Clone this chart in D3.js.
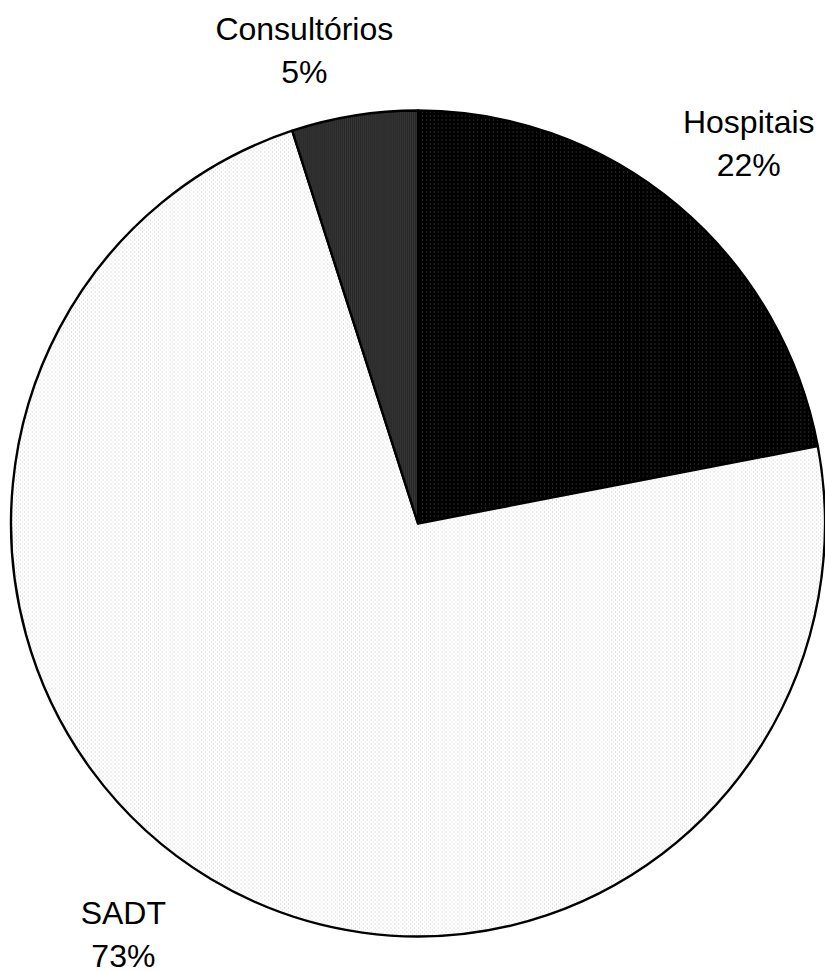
<!DOCTYPE html>
<html>
<head>
<meta charset="utf-8">
<script src="https://cdn.jsdelivr.net/npm/d3@7"></script>
<style>
  body { margin: 0; background: #fff; }
  text { font-family: "Liberation Sans", Arial, sans-serif; font-size: 32px; fill: #000; }
</style>
</head>
<body>
<div id="chart"></div>
<script>
var categories = ["Hospitais", "SADT", "Consultórios"];
var values = [22, 73, 5];
var percentLabels = ["22%", "73%", "5%"];

var width = 825, height = 971;
var cx = 418, cy = 523.5, ry = 413, rx = 407;

var svg = d3.select("#chart").append("svg")
    .attr("width", width)
    .attr("height", height);

// dotted fills, like the old office patterns
var defs = svg.append("defs");
var patterns = [
    {id: "p0", size: 4, bg: "#000", dots: [[0, 0, "#4a4a4a"]]},
    {id: "p1", size: 4, bg: "#fff", dots: [[0, 0, "#c4c4c4"], [2, 2, "#d8d8d8"]]},
    {id: "p2", size: 2, bg: "#262626", dots: [[0, 0, "#484848"]]}
];
patterns.forEach(function(p){
    var pat = defs.append("pattern")
        .attr("id", p.id)
        .attr("patternUnits", "userSpaceOnUse")
        .attr("width", p.size).attr("height", p.size);
    pat.append("rect").attr("width", p.size).attr("height", p.size).attr("fill", p.bg);
    p.dots.forEach(function(d){
        pat.append("rect").attr("x", d[0]).attr("y", d[1]).attr("width", 1).attr("height", 1).attr("fill", d[2]);
    });
});

var data = categories.map(function(c, i){ return {name: c, value: values[i], label: percentLabels[i], idx: i}; });

var pie = d3.pie().sort(null).value(function(d){ return d.value; });
var arc = d3.arc().innerRadius(0).outerRadius(ry);

var g = svg.append("g")
    .attr("transform", "translate(" + cx + "," + cy + ") scale(" + (rx / ry) + ",1)");

var arcs = pie(data);

g.selectAll("path.slice")
    .data(arcs)
    .enter()
    .append("path")
    .attr("class", "slice")
    .attr("d", arc)
    .attr("fill", function(d){ return "url(#p" + d.data.idx + ")"; })
    .attr("stroke", "#000")
    .attr("stroke-width", 2.4)
    .attr("stroke-linejoin", "round");

// label placement: mid angle pushed out, with a small per-label shift
var labelShift = {
    "Hospitais": {r: 1.235, da: 0.027},
    "SADT": {r: 1.222, da: 0.1},
    "Consultórios": {r: 1.189, da: -0.08}
};

var labels = svg.selectAll("text.lbl")
    .data(arcs)
    .enter()
    .append("text")
    .attr("class", "lbl")
    .attr("text-anchor", "middle")
    .attr("transform", function(d){
        var s = labelShift[d.data.name];
        var a = (d.startAngle + d.endAngle) / 2 + s.da;
        var x = cx + Math.sin(a) * rx * s.r;
        var y = cy - Math.cos(a) * ry * s.r;
        return "translate(" + x + "," + y + ")";
    });

labels.append("tspan").attr("x", 0).attr("y", -6).text(function(d){ return d.data.name; });
labels.append("tspan").attr("x", 0).attr("y", 37).text(function(d){ return d.data.label; });
</script>
</body>
</html>
